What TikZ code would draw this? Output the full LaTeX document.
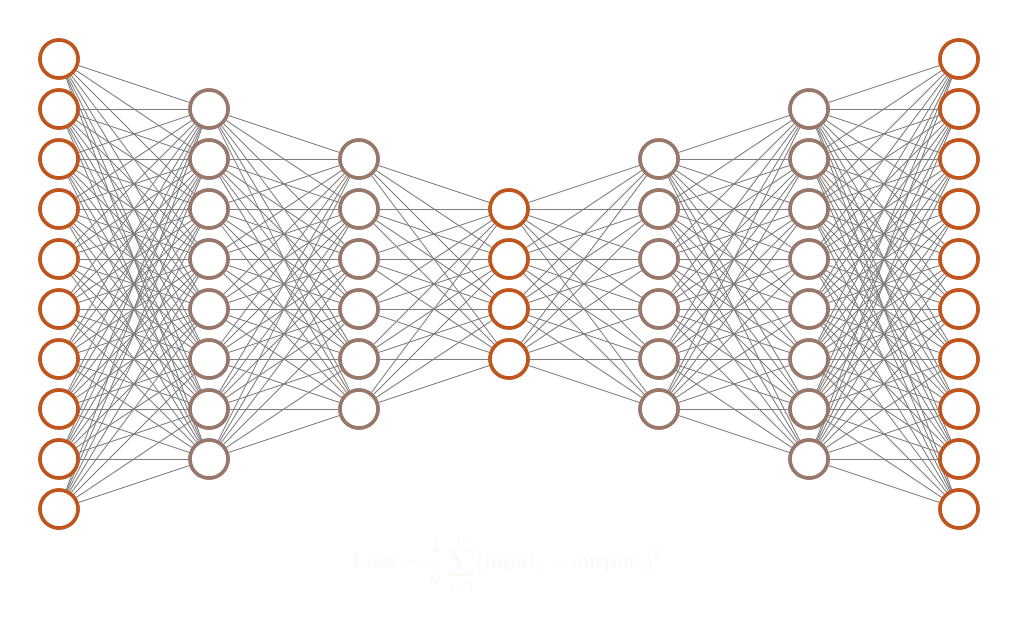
\documentclass[tikz,border=0pt]{standalone}
\usetikzlibrary{arrows,shapes}
\definecolor{rust}{RGB}{192,86,30}
\definecolor{taupe}{RGB}{152,120,106}
\definecolor{wire}{RGB}{125,125,125}
\definecolor{ghost}{RGB}{244,251,242}
\tikzstyle{neuron}=[circle,draw,fill=white,line width=2pt,minimum size=0.76cm,inner sep=0pt]
\tikzstyle{edge} = [draw,wire,line width=0.5pt]
\tikzstyle{loss} = [text=ghost,font=\large,scale=1.09,transform shape]

\begin{document}
\begin{tikzpicture}
    \useasboundingbox (0,0) rectangle (20.36,-12.44);
    % Draw the 10-8-6-4-6-8-10 autoencoder
    % First we draw the neurons, layer by layer
    \foreach \l/\n/\col in {1/10/rust, 2/8/taupe, 3/6/taupe, 4/4/rust, 5/6/taupe, 6/8/taupe, 7/10/rust}
        \foreach \i in {1,...,\n}
            \node[neuron,draw=\col] (n\l-\i) at ({1.18+3*(\l-1)},{-5.68+(\n+1)/2-\i}) {};

    % Connect every neuron with every neuron of the next layer
    \foreach \l/\k/\n/\m in {1/2/10/8, 2/3/8/6, 3/4/6/4, 4/5/4/6, 5/6/6/8, 6/7/8/10}
        \foreach \i in {1,...,\n}
            \foreach \j in {1,...,\m}
                \path[edge] (n\l-\i) -- (n\k-\j);

    % Draw the neurons again on top of the edges
    \foreach \l/\n/\col in {1/10/rust, 2/8/taupe, 3/6/taupe, 4/4/rust, 5/6/taupe, 6/8/taupe, 7/10/rust}
        \foreach \i in {1,...,\n}
            \node[neuron,draw=\col] (n\l-\i) at ({1.18+3*(\l-1)},{-5.68+(\n+1)/2-\i}) {};

    % Loss function, almost invisible
    \node[loss] (lossfn) at (10.15,-11.28)
        {$\displaystyle \mathrm{Loss}=\frac{1}{n}\sum_{i=1}^{n}(\mathrm{input}_i-\mathrm{output}_i)^2$};
\end{tikzpicture}
\end{document}
